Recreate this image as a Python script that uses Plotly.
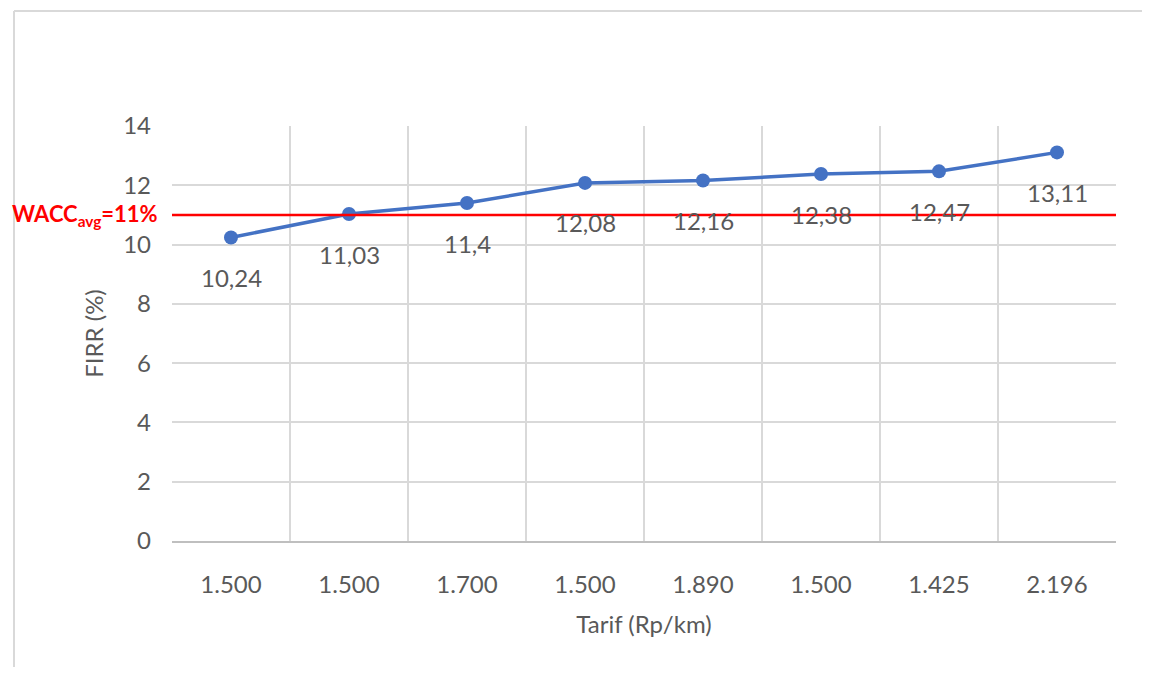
import plotly.graph_objects as go

tarif_labels = ["1.500", "1.500", "1.700", "1.500", "1.890", "1.500", "1.425", "2.196"]
firr_values = [10.24, 11.03, 11.4, 12.08, 12.16, 12.38, 12.47, 13.11]
firr_text = ["10,24", "11,03", "11,4", "12,08", "12,16", "12,38", "12,47", "13,11"]
wacc_avg = 11
wacc_label = "WACC<sub>avg</sub>=11%"
y_ticks = [0, 2, 4, 6, 8, 10, 12, 14]

# page body has an 8px margin on every side; compensate so nothing overflows
OFF = 8
W, H = 1150 - 2 * OFF, 675 - 2 * OFF
L, T = 172 - OFF, 126 - OFF
pw, ph = 944, 415
R, B = W - L - pw, H - T - ph

FONT = "Lato, Open Sans, sans-serif"
GRAY_TXT = "#595959"
GRID = "#d9d9d9"

xs = list(range(len(firr_values)))

fig = go.Figure()
fig.add_trace(go.Scatter(
    x=xs, y=firr_values, mode="lines+markers",
    line=dict(color="#4472C4", width=3.5),
    marker=dict(color="#4472C4", size=14),
    hoverinfo="skip", showlegend=False,
))

annotations = []
for xi, yi, t in zip(xs, firr_values, firr_text):
    annotations.append(dict(
        x=xi, y=yi, xref="x", yref="y", text=t, showarrow=False,
        yshift=-40, font=dict(family=FONT, size=24, color=GRAY_TXT),
    ))

annotations.append(dict(
    x=0, y=wacc_avg, xref="paper", yref="y", text="<b>" + wacc_label + "</b>",
    showarrow=False, xanchor="right", yanchor="middle", xshift=-12,
    font=dict(family=FONT, size=22, color="#FF0000"),
))

fx = 14 - OFF   # outer frame left (figure px)
fy = 11 - OFF   # outer frame top (figure px)
shapes = [
    dict(type="line", xref="x", yref="y", x0=-0.5, x1=len(xs) - 0.5,
         y0=wacc_avg, y1=wacc_avg, line=dict(color="#FF0000", width=2.5), layer="above"),
    dict(type="line", xref="paper", yref="paper",
         x0=(fx - L) / pw, x1=(W - L) / pw,
         y0=(H - B - fy) / ph, y1=(H - B - fy) / ph,
         line=dict(color=GRID, width=2)),
    dict(type="line", xref="paper", yref="paper",
         x0=(fx - L) / pw, x1=(fx - L) / pw,
         y0=(H - B - fy) / ph, y1=(H - B - H) / ph,
         line=dict(color=GRID, width=2)),
]

fig.update_layout(
    width=W, height=H,
    margin=dict(l=L, r=R, t=T, b=B),
    paper_bgcolor="white", plot_bgcolor="white",
    annotations=annotations, shapes=shapes,
    xaxis=dict(
        range=[-0.5, len(xs) - 0.5],
        tickvals=xs, ticktext=tarif_labels,
        showgrid=False, zeroline=False,
        showline=True, linecolor="#bfbfbf", linewidth=1.5, mirror=False,
        ticks="", ticklabelstandoff=21,
        tickfont=dict(family=FONT, size=24, color=GRAY_TXT),
        minor=dict(tickvals=[i - 0.5 for i in range(len(xs) + 1)],
                   showgrid=True, gridcolor=GRID, gridwidth=1.5, ticks=""),
        title=dict(text="Tarif (Rp/km)", standoff=20,
                   font=dict(family=FONT, size=24, color=GRAY_TXT)),
        fixedrange=True,
    ),
    yaxis=dict(
        range=[0, 14], tickvals=y_ticks,
        showgrid=True, gridcolor=GRID, gridwidth=1.5,
        zeroline=False, showline=False,
        ticks="", ticklabelstandoff=20,
        tickfont=dict(family=FONT, size=24, color=GRAY_TXT),
        title=dict(text="FIRR (%)", standoff=12,
                   font=dict(family=FONT, size=24, color=GRAY_TXT)),
        fixedrange=True,
    ),
)

fig.write_html("out.html", config={"displayModeBar": False})
